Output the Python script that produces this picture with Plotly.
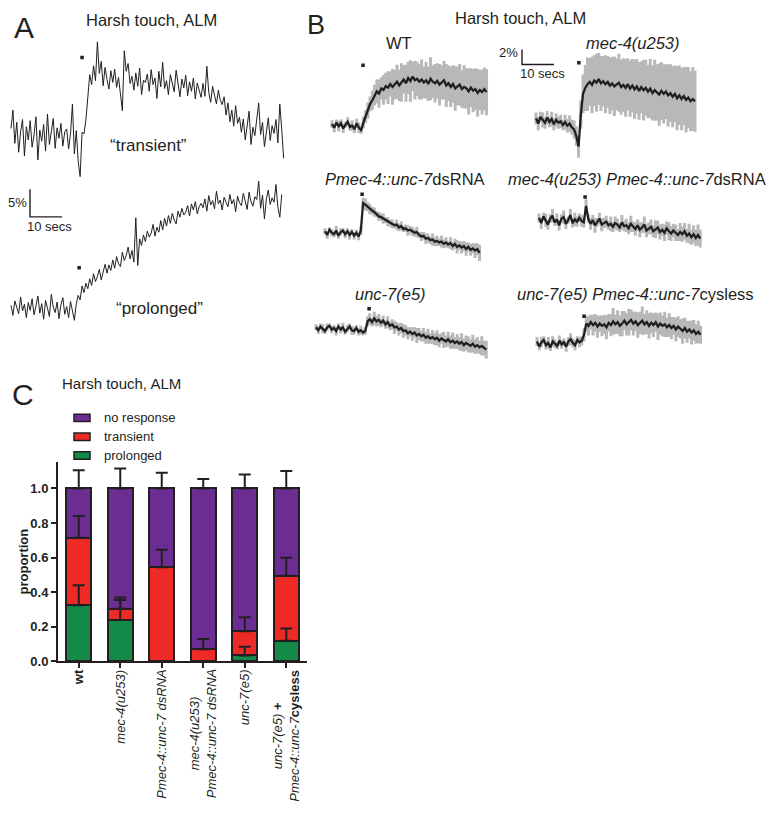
import plotly.graph_objects as go

# ====================== DATA ======================
# Panel A: single-animal traces, dF/F (%) relative to pre-stimulus baseline, one sample every 0.6 s
a_dt = 0.6
a_transient = [
    1.5, 4.8, -1.2, 2.6, -2.8, 0.9, 3.1, -3.5, 1.8, -0.6,
    2.9, -1.9, 0.4, 3.6, -4.2, 1.2, -0.8, 2.2, -2.6, 4.1,
    -1.4, 0.8, 3.3, -2.1, 1.6, -0.3, 2.4, -1.7, 0.9, 1.4,
    -2.2, 0.6, 5.9, -3.1, 1.1, -4.4, -7.2, 0.8, 0.5, 3.0,
    6.8, 11.2, 9.4, 12.8, 10.1, 17.1, 11.4, 13.6, 9.2, 12.5,
    10.3, 8.6, 11.9, 9.8, 12.2, 8.9, 10.7, 7.9, 4.7, 15.5,
    11.8, 13.2, 9.6, 10.9, 8.4, 11.5, 9.1, 12.4, 7.6, 10.2,
    9.8, 11.3, 8.2, 12.1, 9.4, 10.6, 6.9, 11.8, 9.0, 13.4,
    8.7, 10.1, 7.6, 11.2, 9.3, 8.1, 12.0, 9.5, 7.2, 10.4,
    8.8, 11.1, 7.4, 9.9, 8.2, 10.6, 6.8, 9.7, 8.5, 7.1,
    9.6, 7.3, 12.7, 8.0, 6.2, 9.1, 7.5, 5.9, 8.4, 6.6,
    5.8, 7.2, 3.9, 6.1, 2.7, 4.8, 1.9, 5.6, 2.4, 3.5,
    0.8, 3.2, -0.6, 2.1, 4.6, -1.4, 1.7, 0.2, 3.8, 6.1,
    0.4, 2.6, -1.8, 1.2, 3.4, -0.7, 2.0, 0.6, 3.1, -1.1,
    5.9, 1.3, -3.9,
]
a_prolonged = [
    0.6, -1.2, 1.4, 0.2, -0.9, 2.1, -0.4, 0.8, -1.6, 1.1,
    -0.3, 1.8, -1.1, 0.5, 2.3, -0.8, 0.9, -1.9, 1.5, 0.1,
    -1.4, 2.6, 0.3, -0.7, 1.2, -1.8, 0.7, 2.0, -1.0, 0.4,
    -1.6, 1.3, -0.2, -2.1, 0.9, 2.4, 1.6, 4.1, 2.9, 4.6,
    3.6, 5.4, 4.2, 6.3, 4.9, 5.8, 7.1, 5.2, 6.6, 8.0,
    6.4, 7.9, 6.9, 8.8, 7.3, 9.4, 8.1, 7.6, 10.2, 8.7,
    9.6, 11.1, 9.0, 10.5, 8.4, 16.4, 7.8, 12.6, 11.4, 13.3,
    12.1, 14.0, 12.9, 13.6, 15.2, 13.1, 14.7, 13.8, 15.9, 14.2,
    16.3, 14.9, 16.8, 15.4, 17.2, 16.0, 15.3, 17.6, 16.5, 18.1,
    16.9, 17.4, 18.6, 16.7, 18.9, 17.8, 19.3, 17.1, 18.4, 19.0,
    18.2, 19.8, 17.6, 20.4, 18.7, 19.5, 18.0, 21.2, 18.9, 19.6,
    17.8, 20.1, 19.2, 18.4, 20.6, 18.9, 19.7, 17.5, 20.3, 19.1,
    18.6, 20.8, 19.4, 17.9, 21.0, 19.3, 18.5, 20.2, 19.7, 23.0,
    18.1, 20.5, 16.2, 19.8, 21.4, 18.8, 20.0, 19.2, 22.4, 18.3,
    16.5, 20.6,
]
a_stim = [22.2, 21.3]          # stimulus time (s) for transient, prolonged
a_labels = ["\u201ctransient\u201d", "\u201cprolonged\u201d"]

# Panel B: mean +/- SEM traces, dF/F (%) relative to baseline, one sample every 0.7 s
b_dt = 0.7
b_labels = [
    "WT",
    "<i>mec-4(u253)</i>",
    "<i>Pmec-4::unc-7</i>dsRNA",
    "<i>mec-4(u253) Pmec-4::unc-7</i>dsRNA",
    "<i>unc-7(e5)</i>",
    "<i>unc-7(e5) Pmec-4::unc-7</i>cysless",
]
b_wt_mean = [
    0.2, -0.3, 0.4, -0.1, 0.3, -0.4, 0.1, 0.5, -0.2, 0.0,
    -0.5, 0.3, -0.3, -0.6, 0.4, 1.2, 2.0, 2.9, 3.4, 4.1,
    4.6, 4.3, 5.0, 4.8, 5.3, 5.1, 5.6, 5.2, 5.5, 5.9,
    5.4, 5.8, 6.2, 5.7, 6.4, 6.0, 6.6, 6.1, 6.3, 5.9,
    6.2, 5.8, 6.1, 5.6, 6.3, 5.9, 5.7, 6.0, 5.5, 5.8,
    6.1, 5.4, 5.7, 5.2, 5.6, 5.0, 5.3, 5.5, 4.9, 5.2,
    5.0, 4.6, 5.1, 4.7, 4.9, 4.4, 4.8, 4.5, 4.9, 4.5,
]
b_wt_sem = [
    0.5, 0.6, 0.4, 0.7, 0.5, 0.6, 0.4, 0.6, 0.5, 0.7,
    0.5, 0.6, 0.7, 0.5, 0.8, 0.9, 1.1, 1.0, 1.3, 1.4,
    1.6, 1.9, 1.5, 2.0, 1.8, 2.2, 1.7, 2.4, 2.0, 2.3,
    2.1, 2.6, 1.9, 2.5, 2.2, 2.8, 2.0, 2.6, 2.3, 2.4,
    2.7, 2.1, 2.5, 2.3, 2.9, 2.2, 2.6, 2.4, 2.8, 2.3,
    2.6, 2.9, 2.4, 2.7, 2.5, 3.0, 2.6, 2.8, 2.5, 2.9,
    2.7, 3.1, 2.6, 2.9, 2.8, 3.2, 2.7, 3.0, 2.9, 3.1,
]
b_mec4_mean = [
    0.3, -0.4, 0.5, 0.1, -0.3, 0.4, -0.2, 0.2, -0.5, 0.1,
    -0.3, -0.1, -0.6, -0.2, -0.7, -0.4, -0.9, -1.2, -2.1, -3.5,
    0.8, 3.6, 4.4, 4.9, 5.2, 4.8, 5.4, 5.1, 5.6, 5.0,
    5.3, 4.9, 5.2, 4.7, 5.0, 4.6, 4.9, 5.1, 4.5, 4.8,
    4.4, 4.9, 4.3, 4.7, 4.2, 4.6, 4.0, 4.5, 4.1, 4.4,
    3.9, 4.3, 3.7, 4.1, 3.8, 3.5, 4.0, 3.6, 3.9, 3.4,
    3.7, 3.2, 3.6, 3.0, 3.4, 2.9, 3.3, 2.8, 3.1, 2.6, 2.9, 2.6,
]
b_mec4_sem = [
    0.8, 0.9, 0.7, 1.0, 0.8, 0.9, 0.7, 1.0, 0.8, 0.9,
    0.8, 0.9, 0.7, 1.0, 0.9, 1.1, 1.0, 1.2, 1.3, 1.5,
    1.9, 2.6, 3.1, 3.6, 3.2, 3.8, 3.4, 3.9, 3.5, 3.7,
    3.4, 3.9, 3.5, 3.8, 3.6, 4.0, 3.5, 3.9, 3.7, 3.6,
    3.9, 3.5, 3.8, 3.6, 4.0, 3.7, 3.9, 3.5, 4.1, 3.8,
    3.6, 4.0, 3.7, 4.1, 3.8, 4.2, 3.9, 4.0, 3.7, 4.2,
    3.9, 4.1, 3.8, 4.3, 4.0, 4.2, 3.9, 4.4, 4.1, 4.0, 4.3, 4.1,
]
b_ds_mean = [
    0.2, -0.3, 0.4, 0.0, -0.2, 0.3, -0.4, 0.1, 0.3, -0.2,
    0.2, -0.3, 0.1, -0.4, 0.0, -0.5, 0.3, 4.0, 3.8, 3.5,
    3.2, 3.0, 2.8, 2.5, 2.2, 2.1, 1.9, 1.7, 1.5, 1.3,
    1.2, 1.0, 1.1, 0.7, 0.9, 0.5, 0.6, 0.3, 0.4, 0.2,
    0.0, 0.1, -0.3, -0.5, -0.4, -0.8, -0.7, -1.0, -0.9, -1.2,
    -1.1, -1.3, -1.2, -1.5, -1.3, -1.6, -1.4, -1.8, -1.5, -1.9,
    -1.7, -2.0, -1.8, -2.2, -1.9, -2.3, -2.1, -2.4, -2.2, -2.7,
]
b_ds_sem = [
    0.4, 0.5, 0.3, 0.5, 0.4, 0.6, 0.4, 0.5, 0.3, 0.5,
    0.4, 0.6, 0.4, 0.5, 0.4, 0.5, 0.6, 0.7, 0.8, 0.6,
    0.7, 0.5, 0.6, 0.4, 0.6, 0.5, 0.7, 0.4, 0.6, 0.5,
    0.6, 0.4, 0.7, 0.5, 0.6, 0.4, 0.5, 0.7, 0.5, 0.6,
    0.5, 0.7, 0.4, 0.6, 0.5, 0.7, 0.6, 0.5, 0.8, 0.6,
    0.7, 0.5, 0.8, 0.6, 0.7, 0.5, 0.8, 0.6, 0.7, 0.9,
    0.6, 0.8, 0.7, 0.9, 0.6, 0.8, 0.7, 1.0, 0.8, 1.1,
]
b_mec4ds_mean = [
    0.4, -0.3, 0.6, 0.1, -0.5, 0.3, 0.7, -0.2, 0.2, -0.6,
    0.3, 0.5, -0.4, 0.1, 0.8, -0.3, 0.2, -0.1, 0.4, 0.0,
    -0.2, 2.0, 0.3, -0.4, 0.1, -0.6, -0.2, 0.3, -0.5, -0.3,
    -0.1, -0.6, -0.4, -0.8, -0.3, -0.5, -0.9, -0.2, -0.7, -0.6,
    -1.0, -0.4, -0.8, -1.1, -0.6, -1.2, -0.9, -0.5, -1.3, -1.0,
    -0.8, -1.4, -1.1, -0.9, -1.5, -1.2, -1.6, -1.0, -1.4, -1.7,
    -1.3, -1.6, -1.9, -1.5, -1.8, -1.4, -2.0, -1.7, -2.2, -1.8, -2.3, -1.9, -2.4,
]
b_mec4ds_sem = [
    0.6, 0.8, 0.5, 0.9, 0.7, 0.6, 0.9, 0.5, 0.8, 0.7,
    0.6, 0.9, 0.7, 0.5, 0.8, 0.6, 0.9, 0.7, 0.6, 0.8,
    0.7, 0.9, 0.6, 0.8, 0.7, 1.0, 0.6, 0.8, 0.9, 0.7,
    0.8, 0.6, 1.0, 0.7, 0.9, 0.8, 0.6, 1.0, 0.7, 0.9,
    0.8, 1.1, 0.7, 0.9, 0.8, 1.0, 0.7, 1.1, 0.9, 0.8,
    1.0, 0.8, 1.2, 0.9, 1.0, 0.8, 1.1, 0.9, 1.2, 1.0,
    0.9, 1.1, 0.8, 1.2, 1.0, 1.1, 0.9, 1.3, 1.0, 1.2, 1.1, 1.4, 1.2,
]
b_unc7_mean = [
    0.2, -0.2, 0.3, 0.0, -0.3, 0.2, 0.4, -0.1, 0.1, -0.3,
    0.3, -0.1, 0.2, -0.4, 0.0, 0.3, -0.2, -0.3, 0.1, -0.4,
    -0.2, -0.5, -0.3, 1.0, 1.3, 0.9, 1.4, 1.0, 1.2, 0.8,
    1.1, 0.6, 0.9, 0.4, 0.6, 0.2, 0.3, -0.1, 0.1, -0.3,
    -0.2, -0.6, -0.4, -0.7, -0.5, -0.9, -0.7, -1.0, -0.8, -1.2,
    -1.0, -1.3, -1.1, -1.4, -1.2, -1.6, -1.3, -1.5, -1.7, -1.4,
    -1.8, -1.6, -1.9, -1.7, -2.0, -1.8, -2.2, -1.9, -2.1, -2.3,
    -2.0, -2.4, -2.2, -2.5, -2.3, -2.6, -2.8,
]
b_unc7_sem = [
    0.4, 0.5, 0.4, 0.6, 0.4, 0.5, 0.3, 0.5, 0.4, 0.6,
    0.4, 0.5, 0.6, 0.4, 0.5, 0.4, 0.6, 0.5, 0.4, 0.5,
    0.6, 0.4, 0.5, 0.7, 0.8, 0.6, 0.9, 0.7, 0.8, 0.6,
    0.7, 0.6, 0.8, 0.6, 0.7, 0.9, 0.6, 0.8, 0.7, 0.9,
    0.7, 0.8, 0.6, 0.9, 0.7, 1.0, 0.8, 0.7, 0.9, 0.8,
    1.0, 0.7, 0.9, 0.8, 1.0, 0.9, 0.7, 1.1, 0.8, 1.0,
    0.9, 1.1, 0.8, 1.0, 0.9, 1.2, 0.9, 1.0, 1.1, 0.9,
    1.2, 1.0, 1.1, 0.9, 1.3, 1.0, 1.2,
]
b_cys_mean = [
    0.3, -0.4, 0.2, 0.5, -0.2, 0.1, -0.5, 0.3, 0.0, -0.3,
    0.4, -0.1, 0.2, -0.4, 0.3, 0.6, 0.1, -0.2, 0.5, 0.2,
    0.4, 1.2, 2.7, 2.4, 2.9, 2.5, 2.8, 2.3, 2.7, 2.4,
    2.6, 2.2, 2.8, 2.5, 3.0, 2.6, 2.9, 2.4, 2.7, 3.1,
    2.6, 2.9, 3.2, 2.7, 3.0, 2.5, 2.8, 3.1, 2.6, 2.9,
    2.4, 2.8, 2.5, 2.9, 2.3, 2.7, 2.4, 2.6, 2.2, 2.5,
    2.1, 2.4, 1.9, 2.3, 2.0, 1.7, 2.1, 1.6, 1.9, 1.5,
    1.8, 1.3, 1.6, 1.2,
]
b_cys_sem = [
    0.6, 0.5, 0.7, 0.5, 0.6, 0.8, 0.5, 0.7, 0.6, 0.5,
    0.7, 0.6, 0.5, 0.7, 0.6, 0.8, 0.6, 0.7, 0.5, 0.7,
    0.6, 0.9, 1.1, 1.3, 1.0, 1.4, 1.2, 1.5, 1.1, 1.4,
    1.3, 1.6, 1.2, 1.5, 1.8, 1.3, 1.6, 1.4, 1.7, 1.3,
    1.5, 1.8, 1.4, 1.6, 1.3, 1.7, 1.5, 1.9, 1.4, 1.6,
    1.7, 1.4, 1.6, 1.3, 1.8, 1.5, 1.4, 1.7, 1.3, 1.6,
    1.5, 1.2, 1.6, 1.4, 1.3, 1.7, 1.4, 1.5, 1.2, 1.6,
    1.4, 1.3, 1.5, 1.2,
]
b_means = [b_wt_mean, b_mec4_mean, b_ds_mean, b_mec4ds_mean, b_unc7_mean, b_cys_mean]
b_sems = [b_wt_sem, b_mec4_sem, b_ds_sem, b_mec4ds_sem, b_unc7_sem, b_cys_sem]
b_stim = [9.7, 13.4, 11.6, 14.4, 16.6, 14.7]

# Panel C: proportions of response types
c_categories = ["wt", "mec-4(u253)", "Pmec-4::unc-7 dsRNA",
                "mec-4(u253) Pmec-4::unc-7 dsRNA", "unc-7(e5)",
                "unc-7(e5) + Pmec-4::unc-7cysless"]
c_ticklabels = [
    "<b>wt</b>",
    "<i>mec-4(u253)</i>",
    "<i>Pmec-4::unc-7 dsRNA</i>",
    "<i>mec-4(u253)</i><br><i>Pmec-4::unc-7 dsRNA</i>",
    "<i>unc-7(e5)</i>",
    "<i>unc-7(e5)</i> <b>+</b><br><i>Pmec-4::unc-7</i><b>cysless</b>",
]
c_prolonged = [0.325, 0.24, 0.0, 0.0, 0.035, 0.12]
c_transient = [0.39, 0.065, 0.545, 0.07, 0.14, 0.375]
c_noresp = [0.285, 0.695, 0.455, 0.93, 0.825, 0.505]
c_err_prolonged = [0.115, 0.115, None, None, 0.05, 0.07]
c_err_transient = [0.125, 0.065, 0.10, 0.06, 0.08, 0.105]
c_err_noresp = [0.105, 0.115, 0.09, 0.055, 0.08, 0.10]
c_series = ["no response", "transient", "prolonged"]
c_yticks = [0.0, 0.2, 0.4, 0.6, 0.8, 1.0]

# ====================== STYLE / LAYOUT ======================
PAGE_OFF = 8                 # default page body margin of the html page
W, H = 776 - PAGE_OFF, 818 - PAGE_OFF
FONT = "Liberation Sans"
INK = "#231f20"
GRAY = "#b8b8ba"
PURPLE = "#6c2d92"
RED = "#ee2a27"
GREEN = "#138a48"


def fx(px):
    return (px - PAGE_OFF) / W


def fy(py):
    return 1 - (py - PAGE_OFF) / H


# panel A axis box (page px) and scale (px per s, px per %)
A_BOX = (10, 295, 30, 330)
A_SX, A_SY = 3.2, 5.6
# panel B axis box and scale
B_BOX = (305, 715, 30, 370)
B_SX, B_SY = 3.2, 7.5


def a_x(px):
    return (px - A_BOX[0]) / A_SX


def a_y(py):
    return (A_BOX[3] - py) / A_SY


def b_x(px):
    return (px - B_BOX[0]) / B_SX


def b_y(py):
    return (B_BOX[3] - py) / B_SY


fig = go.Figure()

# ---------- Panel C bars ----------
for vals, col in [(c_prolonged, GREEN), (c_transient, RED), (c_noresp, PURPLE)]:
    fig.add_trace(go.Bar(x=c_categories, y=vals, width=0.6,
                         marker=dict(color=col, line=dict(color=INK, width=2)),
                         xaxis="x", yaxis="y", hoverinfo="skip"))

tops_g = list(c_prolonged)
tops_r = [g + r for g, r in zip(c_prolonged, c_transient)]
tops_p = [g + r + p for g, r, p in zip(c_prolonged, c_transient, c_noresp)]
for tops, errs in [(tops_g, c_err_prolonged), (tops_r, c_err_transient), (tops_p, c_err_noresp)]:
    ys = [t if e is not None else None for t, e in zip(tops, errs)]
    fig.add_trace(go.Scatter(
        x=c_categories, y=ys, mode="markers",
        marker=dict(size=1, color="rgba(0,0,0,0)"),
        error_y=dict(type="data", symmetric=False,
                     array=[e if e is not None else 0 for e in errs],
                     arrayminus=[0] * len(errs), color=INK, thickness=2, width=6),
        xaxis="x", yaxis="y", hoverinfo="skip"))

# ---------- Panel A traces ----------
a_pos = [(11, 138.0, 14.3), (11, 311.7, 7.4)]   # start px, baseline py, stim-mark height (%)
for vals, (px0, py0, mh), st in zip([a_transient, a_prolonged], a_pos, a_stim):
    x0, y0 = a_x(px0), a_y(py0)
    fig.add_trace(go.Scatter(x=[x0 + i * a_dt for i in range(len(vals))],
                             y=[y0 + v for v in vals], mode="lines",
                             line=dict(color=INK, width=1.0),
                             xaxis="x2", yaxis="y2", hoverinfo="skip"))
    fig.add_trace(go.Scatter(x=[x0 + st], y=[y0 + mh], mode="markers",
                             marker=dict(symbol="square", size=3.5, color=INK),
                             xaxis="x2", yaxis="y2", hoverinfo="skip"))
# A scale bar: 5 % and 10 s
sx0, sy0 = a_x(30), a_y(219)
fig.add_trace(go.Scatter(x=[sx0, sx0, sx0 + 10], y=[sy0 + 5, sy0, sy0], mode="lines",
                         line=dict(color=INK, width=1.4), xaxis="x2", yaxis="y2",
                         hoverinfo="skip"))

# ---------- Panel B traces ----------
b_pos = [(332, 126.7, 8.1), (536, 121.7, 7.8), (325, 235.0, 5.2),
         (539, 223.0, 3.2), (316, 332.0, 2.7), (537, 347.0, 3.7)]
for mean, sem, (px0, py0, mh), st in zip(b_means, b_sems, b_pos, b_stim):
    x0, y0 = b_x(px0), b_y(py0)
    xs = [x0 + i * b_dt for i in range(len(mean))]
    ys = [y0 + v for v in mean]
    fig.add_trace(go.Scatter(x=xs, y=ys, mode="markers",
                             marker=dict(size=1, color="rgba(0,0,0,0)"),
                             error_y=dict(type="data", array=sem, color=GRAY,
                                          thickness=3, width=0),
                             xaxis="x3", yaxis="y3", hoverinfo="skip"))
    fig.add_trace(go.Scatter(x=xs, y=ys, mode="lines",
                             line=dict(color=INK, width=2.3),
                             xaxis="x3", yaxis="y3", hoverinfo="skip"))
    fig.add_trace(go.Scatter(x=[x0 + st], y=[y0 + mh], mode="markers",
                             marker=dict(symbol="square", size=3.5, color=INK),
                             xaxis="x3", yaxis="y3", hoverinfo="skip"))
# B scale bar: 2 % and 10 s
bx0, by0 = b_x(522), b_y(65)
fig.add_trace(go.Scatter(x=[bx0, bx0, bx0 + 10], y=[by0 + 2, by0, by0], mode="lines",
                         line=dict(color=INK, width=1.4), xaxis="x3", yaxis="y3",
                         hoverinfo="skip"))

# ---------- annotations ----------
anns = []


def txt(text, px, py, size, xanchor="center", yanchor="middle", angle=0):
    anns.append(dict(text=text, x=fx(px), y=fy(py), xref="paper", yref="paper",
                     xanchor=xanchor, yanchor=yanchor, showarrow=False,
                     textangle=angle, font=dict(family=FONT, size=size, color=INK)))


txt("A", 24, 28, 30)
txt("B", 316, 25, 27)
txt("C", 23, 398, 30)
txt("Harsh touch, ALM", 151, 20, 16.5)
txt("Harsh touch, ALM", 520, 18, 16.5)
txt("Harsh touch, ALM", 121, 387, 15)
txt(a_labels[0], 148, 147, 17)
txt(a_labels[1], 159, 312, 17)
txt("5%", 29, 204, 13, xanchor="right")
txt("10 secs", 49, 229, 13)
txt("2%", 520, 53, 13, xanchor="right")
txt("10 secs", 542, 74, 13)
for lab, (px, py) in zip(b_labels, [(399, 43), (633, 43), (405, 181), (637, 181), (390, 297), (635, 297)]):
    txt(lab, px, py, 16.5)

# legend (manual)
shapes = []
for name, col, py in zip(c_series, [PURPLE, RED, GREEN], [422, 441, 460]):
    shapes.append(dict(type="rect", xref="paper", yref="paper",
                       x0=fx(74), x1=fx(90), y0=fy(py + 3.7), y1=fy(py - 3.7),
                       fillcolor=col, line=dict(color=INK, width=1.5)))
    txt(name, 102, py, 13, xanchor="left")

txt("<b>proportion</b>", 23, 567, 13, angle=-90)

# category labels (rotated)
for cat, lab in zip(c_categories, c_ticklabels):
    anns.append(dict(text=lab, x=cat, y=fy(674), xref="x", yref="paper",
                     xanchor="center", yanchor="top", showarrow=False, textangle=-90,
                     align="center", font=dict(family=FONT, size=13, color=INK)))

fig.update_layout(
    width=W, height=H, margin=dict(l=0, r=0, t=0, b=0),
    paper_bgcolor="white", plot_bgcolor="white", showlegend=False,
    barmode="stack", bargap=0.4,
    font=dict(family=FONT, color=INK),
    annotations=anns, shapes=shapes,
    xaxis=dict(domain=[fx(58), fx(307)], type="category", range=[-0.5, 5.5],
               showline=True, linewidth=2, linecolor=INK, ticks="outside",
               ticklen=5, tickwidth=2, tickcolor=INK, showticklabels=False,
               showgrid=False, zeroline=False, anchor="y"),
    yaxis=dict(domain=[fy(668), fy(467)], range=[0, 1.15], tickvals=c_yticks,
               tickformat=".1f", ticks="outside", ticklen=5, tickwidth=2,
               tickcolor=INK, showline=True, linewidth=2, linecolor=INK,
               showgrid=False, zeroline=False, anchor="x",
               tickfont=dict(family=FONT, size=13, color=INK, weight="bold")),
    xaxis2=dict(domain=[fx(A_BOX[0]), fx(A_BOX[1])], range=[0, (A_BOX[1] - A_BOX[0]) / A_SX],
                visible=False, anchor="y2"),
    yaxis2=dict(domain=[fy(A_BOX[3]), fy(A_BOX[2])], range=[0, (A_BOX[3] - A_BOX[2]) / A_SY],
                visible=False, anchor="x2"),
    xaxis3=dict(domain=[fx(B_BOX[0]), fx(B_BOX[1])], range=[0, (B_BOX[1] - B_BOX[0]) / B_SX],
                visible=False, anchor="y3"),
    yaxis3=dict(domain=[fy(B_BOX[3]), fy(B_BOX[2])], range=[0, (B_BOX[3] - B_BOX[2]) / B_SY],
                visible=False, anchor="x3"),
)

fig.write_html("out.html")
